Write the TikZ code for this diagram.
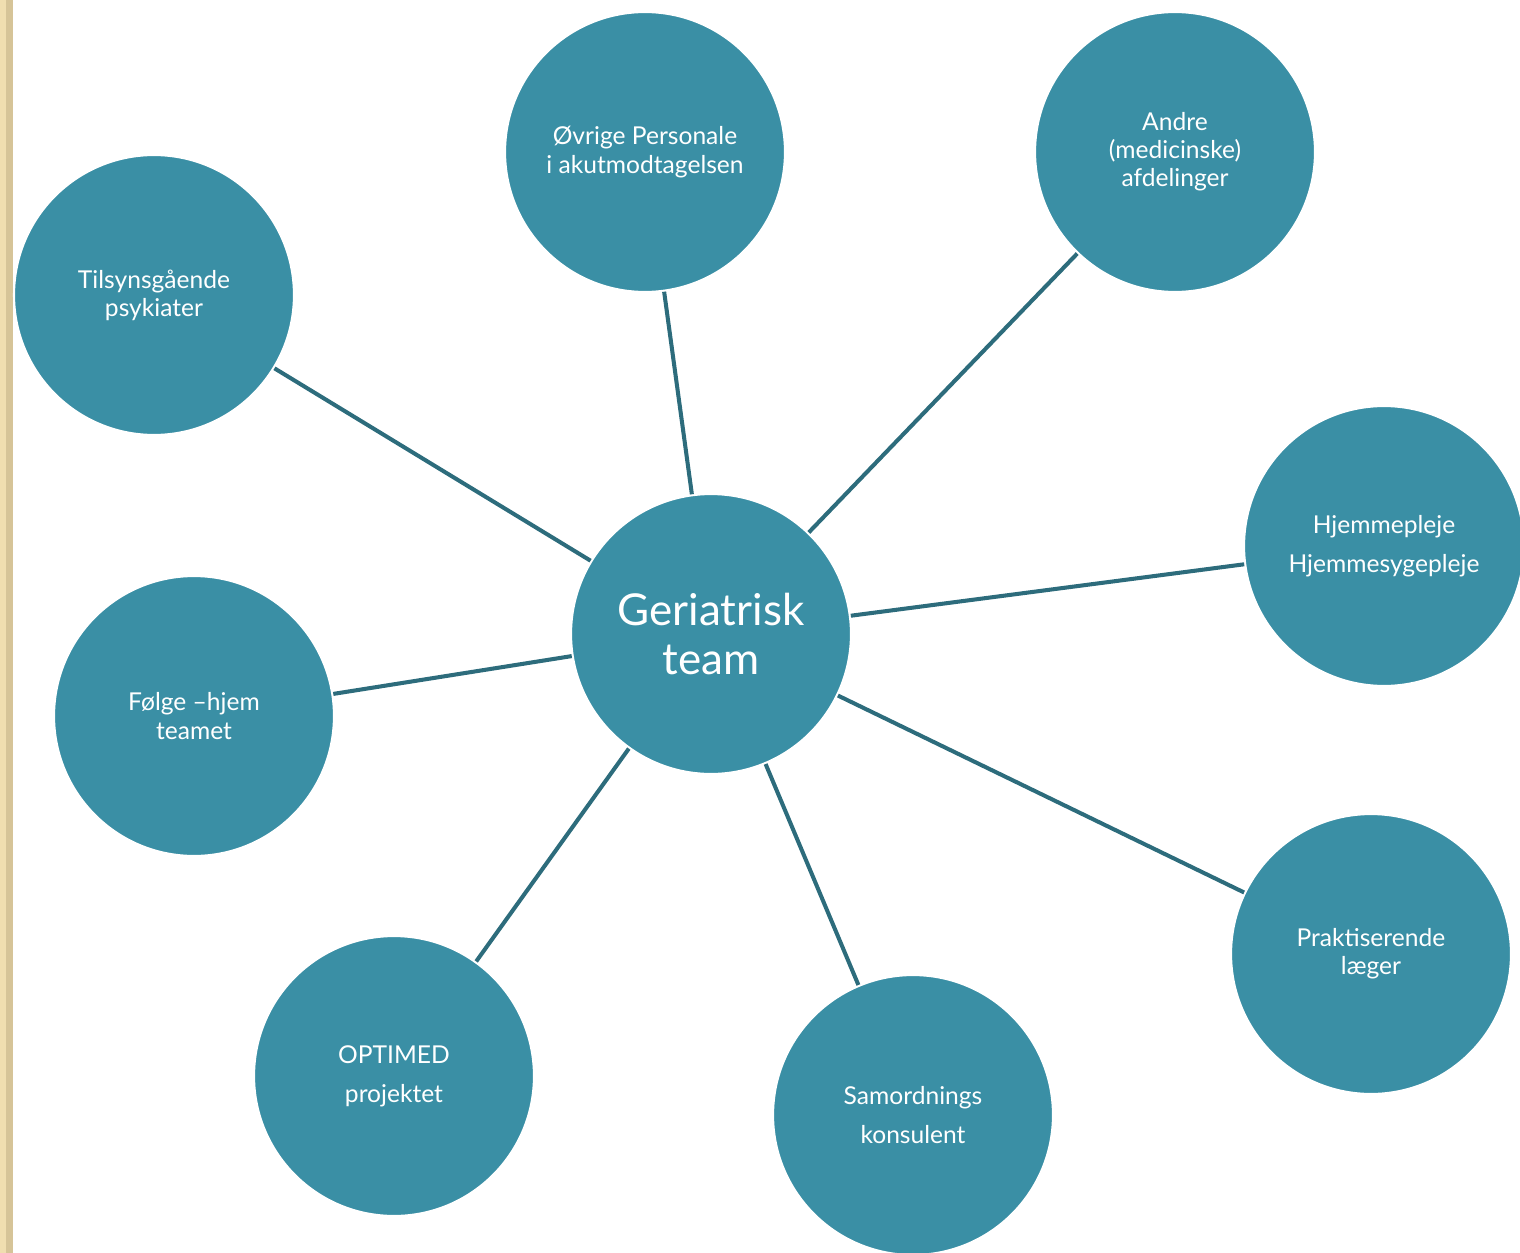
\documentclass[tikz,border=0pt]{standalone}
\usepackage{fontspec}
\setmainfont{Lato}
\usepackage{tikz}
\usetikzlibrary{shapes,positioning}
\definecolor{tealfill}{RGB}{58,143,165}
\definecolor{tealline}{RGB}{45,108,124}
\definecolor{stripelight}{RGB}{240,222,176}
\definecolor{stripedark}{RGB}{214,196,152}
\tikzstyle{bubble} = [circle, fill=tealfill, draw=white, line width=1.2pt, minimum size=5.6cm, inner sep=0pt, align=center, text=white, font=\fontsize{14}{16}\selectfont]
\tikzstyle{widebubble} = [bubble, font=\fontsize{14}{22}\selectfont]
\tikzstyle{hubbubble} = [bubble, font=\fontsize{25}{28}\selectfont]
\tikzstyle{spoke} = [draw=tealline, line width=2.3pt]

\begin{document}
\begin{tikzpicture}[x=0.02cm, y=-0.02cm]
	\useasboundingbox (0,0) rectangle (1520,1253);
	\clip (0,0) rectangle (1520,1253);
	\fill[stripelight] (0,0) rectangle (6,1253);
	\fill[stripedark] (6,0) rectangle (13,1253);
	% hub and spokes
	\node[hubbubble] (hub) at (711,634) {Geriatrisk\\team};
	\node[bubble] (ovrige) at (645,152) {Øvrige Personale\\i akutmodtagelsen};
	\node[bubble] (andre) at (1175,152) {Andre\\(medicinske)\\afdelinger};
	\node[bubble] (tilsyn) at (154,295) {Tilsynsgående\\psykiater};
	\node[widebubble] (hjemme) at (1384,546) {Hjemmepleje\\Hjemmesygepleje};
	\node[bubble] (folge) at (194,716) {Følge –hjem\\teamet};
	\node[widebubble] (optimed) at (394,1076) {OPTIMED\\projektet};
	\node[widebubble] (samord) at (913,1115) {Samordnings\\konsulent};
	\node[bubble] (praktis) at (1371,954) {Praktiserende\\læger};
	\foreach \n in {ovrige,andre,tilsyn,hjemme,folge,optimed,samord,praktis}
		\draw[spoke] (hub) -- (\n);
\end{tikzpicture}
\end{document}
